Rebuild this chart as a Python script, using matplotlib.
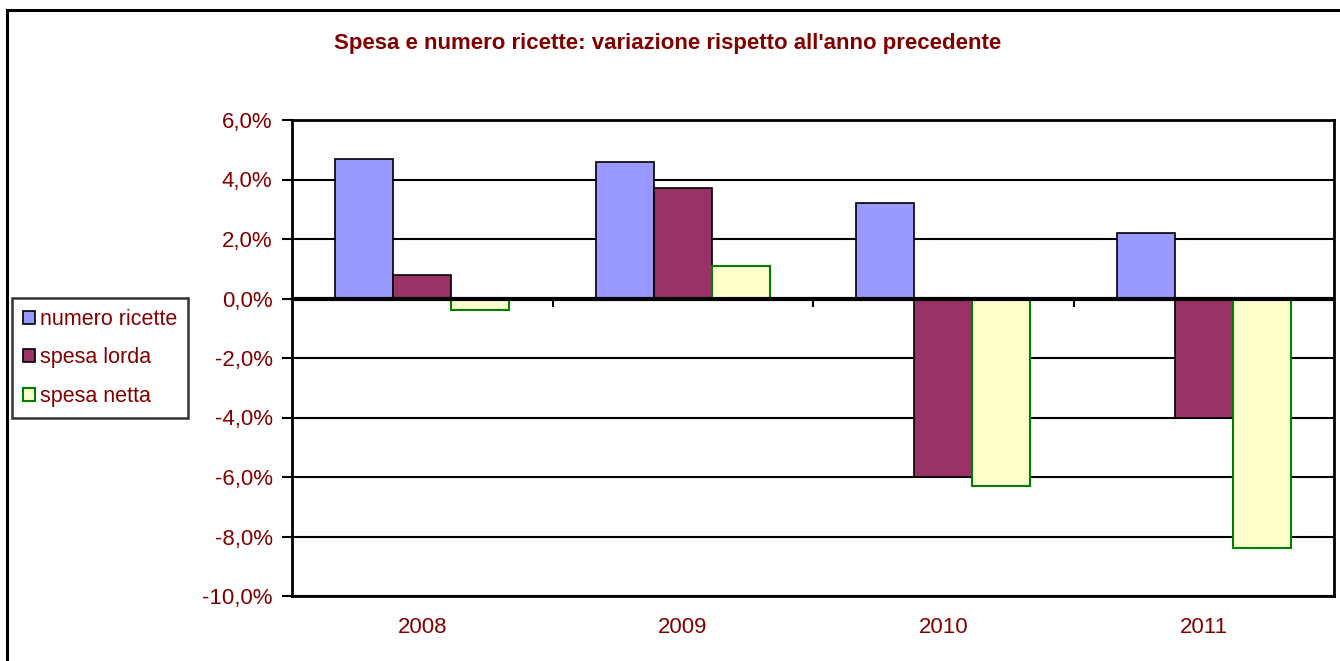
import numpy as np
import matplotlib.pyplot as plt
from matplotlib.patches import Rectangle
from matplotlib.ticker import FuncFormatter

plt.rcParams['font.family'] = ['Liberation Sans', 'DejaVu Sans']

anni = ['2008', '2009', '2010', '2011']
numero_ricette = [4.7, 4.6, 3.2, 2.2]
spesa_lorda = [0.8, 3.7, -6.0, -4.0]
spesa_netta = [-0.4, 1.1, -6.3, -8.4]

testo = '#800000'

fig = plt.figure(figsize=(13.4, 6.61), dpi=100)
# cornice esterna del grafico
fig.patches.append(Rectangle((7 / 1340, -0.1), 1.1, 1 - 10 / 661 + 0.1,
                             transform=fig.transFigure, fill=False,
                             edgecolor='black', linewidth=2.2))

ax = fig.add_axes([292 / 1340, 1 - 596 / 661, (1334 - 292) / 1340, (596 - 120) / 661])

x = np.arange(len(anni))
w = 1 / 4.5
ax.bar(x - w, numero_ricette, w, color='#9999FF', edgecolor='black', linewidth=1.2,
       label='numero ricette', zorder=3)
ax.bar(x, spesa_lorda, w, color='#993366', edgecolor='black', linewidth=1.2,
       label='spesa lorda', zorder=3)
ax.bar(x + w, spesa_netta, w, color='#FFFFCC', edgecolor='#008000', linewidth=1.5,
       label='spesa netta', zorder=3)

ax.set_xlim(-0.5, len(anni) - 0.5)
ax.set_ylim(-10, 6)
ax.set_yticks(np.arange(-10, 7, 2))
ax.yaxis.set_major_formatter(FuncFormatter(lambda v, p: f'{v:.1f}%'.replace('.', ',')))
ax.yaxis.grid(True, color='black', linewidth=1.5, zorder=1)
ax.axhline(0, color='black', linewidth=3, zorder=4)
# tacche tra le categorie sulla linea dello zero
ax.vlines(np.arange(0.5, len(anni) - 0.5), -0.27, 0, color='black', linewidth=1.5, zorder=4)

ax.set_xticks(x)
ax.set_xticklabels(anni)
ax.tick_params(axis='x', length=0, pad=15, labelsize=16, labelcolor=testo)
ax.tick_params(axis='y', length=7, width=1.5, pad=7, labelsize=16, labelcolor=testo)

for s in ['left', 'right', 'bottom', 'top']:
    ax.spines[s].set_linewidth(2)
    ax.spines[s].set_color('black')

fig.text(668 / 1340, 1 - 43 / 661, "Spesa e numero ricette: variazione rispetto all'anno precedente",
         ha='center', va='center', fontsize=16, fontweight='bold', color=testo)

leg = fig.legend(loc='upper left', bbox_to_anchor=(12 / 1340, 1 - 298 / 661),
                 fontsize=15.5, frameon=True, fancybox=False, edgecolor='black',
                 handlelength=0.55, handleheight=0.55, handletextpad=0.25,
                 labelspacing=0.82, borderpad=0.5, borderaxespad=0)
leg.get_frame().set_linewidth(1.8)
for t in leg.get_texts():
    t.set_color(testo)

fig.savefig('out.png', dpi=100)
